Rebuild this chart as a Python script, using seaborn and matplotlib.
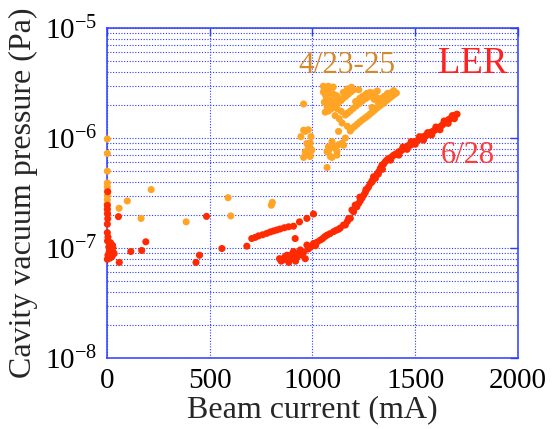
import matplotlib
matplotlib.use('Agg')
import matplotlib.pyplot as plt
import matplotlib.ticker as mticker
import pandas as pd
import seaborn as sns

# LER, 6/28 run: beam current (mA) vs cavity vacuum pressure (Pa)
red_current = [
    5, 3, 3, 4, 5, 3, 57, 3, 6, 4, 18, 28, 10, 22, 32, 6, 26, 3, 16, 36, 30, 12,
    61, 117, 170, 190, 434, 451, 485, 560, 681,
    705, 722, 738, 758, 778, 795, 811, 827, 843, 864, 884, 908, 916, 937, 973, 1005,
    840, 848, 859, 866, 876, 885, 893, 900, 908, 918, 925, 933, 941, 950, 958, 965,
    973, 980, 990, 1005, 1015, 1022, 1038, 1050, 1060, 1071, 1085, 1103, 1115, 1127,
    1135, 1151, 1160, 1170, 1176, 1184, 1192, 1200, 1208, 1216, 1225, 1233, 1241,
    1249, 1257, 1265, 1273, 1281, 1290, 1297, 1306, 1314, 1322, 1330, 1338, 1346,
    1354, 1362, 1370, 1378, 1387, 1395, 1403, 1411, 1420, 1428, 1435, 1443, 1452,
    1460, 1468, 1476, 1484, 1492, 1500, 1510, 1518, 1525, 1533, 1541, 1549, 1557,
    1565, 1573, 1581, 1589, 1597, 1605, 1613, 1622, 1630, 1638, 1646, 1654, 1662,
    1670, 1678, 1687, 1695, 1703,
    1340, 1380, 1420, 1460, 1500, 1540, 1580, 1620, 1660, 1690, 1440, 1480, 1520,
    1560, 1600, 1640, 1680, 1230, 1260, 1290, 1320,
]
red_pressure = [
    3.25e-7, 2.45e-7, 2.25e-7, 2.05e-7, 1.85e-7, 1.65e-7, 1.93e-7, 1.38e-7, 1.26e-7,
    1.16e-7, 1.12e-7, 1.06e-7, 1.02e-7, 9.6e-8, 9.1e-8, 8.6e-8, 8.4e-8, 7.9e-8,
    8.1e-8, 8.9e-8, 1.01e-7, 9.2e-8,
    7.4e-8, 9.3e-8, 9.5e-8, 1.14e-7, 7.4e-8, 8.6e-8, 1.94e-7, 9.9e-8, 1.04e-7,
    1.22e-7, 1.25e-7, 1.29e-7, 1.32e-7, 1.36e-7, 1.40e-7, 1.43e-7, 1.46e-7, 1.49e-7,
    1.53e-7, 1.56e-7, 1.58e-7, 1.22e-7, 1.73e-7, 1.86e-7, 2.04e-7,
    8.0e-8, 7.6e-8, 7.8e-8, 8.3e-8, 8.6e-8, 7.4e-8, 8.0e-8, 8.8e-8, 9.3e-8, 7.6e-8,
    8.3e-8, 9.0e-8, 9.6e-8, 8.6e-8, 9.2e-8, 8.0e-8,
    1.065e-7, 9.8e-8, 1.02e-7, 1.10e-7, 1.05e-7, 1.13e-7, 1.18e-7, 1.22e-7, 1.27e-7,
    1.31e-7, 1.35e-7, 1.41e-7, 1.45e-7, 1.48e-7,
    1.52e-7, 1.62e-7, 1.62e-7, 1.75e-7, 1.86e-7, 1.86e-7, 2.22e-7, 2.14e-7, 2.46e-7,
    2.37e-7, 2.55e-7, 2.70e-7, 2.85e-7,
    3.03e-7, 3.2e-7, 3.43e-7, 3.6e-7, 3.85e-7, 4.1e-7, 4.45e-7, 4.3e-7, 4.7e-7,
    4.94e-7, 5.3e-7, 5.68e-7, 5.8e-7,
    6.1e-7, 6.31e-7, 6.5e-7, 6.6e-7, 6.76e-7, 7.0e-7, 7.1e-7, 7.25e-7, 7.5e-7,
    7.6e-7, 7.78e-7, 8.0e-7, 8.2e-7,
    8.34e-7, 8.6e-7, 8.6e-7, 8.8e-7, 8.95e-7, 9.3e-7, 9.5e-7, 9.7e-7, 9.9e-7,
    1.02e-6, 1.03e-6, 1.05e-6, 1.065e-6,
    1.10e-6, 1.12e-6, 1.14e-6, 1.16e-6, 1.19e-6, 1.22e-6, 1.24e-6, 1.27e-6, 1.31e-6,
    1.35e-6, 1.39e-6, 1.43e-6, 1.47e-6,
    1.50e-6, 1.54e-6, 1.58e-6, 1.62e-6, 1.65e-6,
    5.2e-7, 6.3e-7, 7.0e-7, 7.9e-7, 8.8e-7, 9.6e-7, 1.07e-6, 1.19e-6, 1.36e-6,
    1.50e-6, 8.3e-7, 9.3e-7, 1.03e-6, 1.12e-6, 1.26e-6, 1.43e-6, 1.60e-6,
    2.9e-7, 3.4e-7, 4.0e-7, 4.7e-7,
]

# 4/23-25 runs
orange_current = [
    3, 3, 3, 3, 3, 3, 3, 3, 3, 3, 3, 60, 100, 216, 167, 386, 590, 603, 800, 805,
    944, 957, 965, 980, 993, 973, 989, 980, 997, 973, 965, 989, 957, 989, 1071,
    1078, 1103, 1095, 1103, 1078, 1087, 1095, 1119, 1119, 1127, 1144, 1151, 1071, 957,
    1053, 1077, 1101, 1053, 1067, 1058, 1072, 1062, 1087, 1111, 1062, 1080, 1090,
    1077, 1101, 1125, 1150, 1174, 1198, 1089, 1113, 1137, 1162, 1186, 1150, 1170,
    1160, 1184, 1213, 1242, 1271, 1296, 1315, 1172, 1198, 1228, 1257, 1284, 1230, 1265,
    1194, 1218, 1242, 1267, 1291, 1315, 1340, 1364, 1388, 1408, 1206, 1230, 1255,
    1279, 1303, 1327, 1352, 1376, 1398, 1340, 1370, 1395, 1290, 1320,
    1144, 1127, 1160, 1184, 1170, 1130, 1110, 1140, 1120,
    1070, 1095, 1120, 1140, 1110, 1085, 1210, 1245, 1280, 1310, 1350, 1385,
    1190, 1225, 1260, 1300, 1335, 1365,
]
orange_pressure = [
    9.8e-7, 7.25e-7, 5.0e-7, 3.9e-7, 3.6e-7, 3.3e-7, 3.0e-7, 2.75e-7, 2.5e-7,
    2.25e-7, 2.05e-7, 2.3e-7, 2.68e-7, 3.4e-7, 1.86e-7, 1.73e-7, 2.87e-7, 1.96e-7,
    2.45e-7, 2.6e-7,
    1.03e-6, 1.18e-6, 1.15e-6, 1.19e-6, 1.03e-6, 8.95e-7, 9.0e-7, 8.4e-7, 7.8e-7,
    7.3e-7, 7.5e-7, 6.8e-7, 6.67e-7, 7.35e-7, 7.5e-7,
    8.34e-7, 8.5e-7, 9.3e-7, 8.2e-7, 7.6e-7, 6.8e-7, 6.67e-7, 7.6e-7, 7.0e-7, 8.7e-7,
    9.0e-7, 8.6e-7, 5.4e-7, 2.04e-6,
    2.96e-6, 2.96e-6, 2.91e-6, 2.63e-6, 2.36e-6, 2.12e-6, 1.91e-6, 1.72e-6, 2.22e-6,
    2.46e-6, 2.5e-6, 2.6e-6, 2.75e-6,
    1.76e-6, 1.91e-6, 2.08e-6, 2.31e-6, 2.51e-6, 2.73e-6, 1.83e-6, 2.0e-6, 2.2e-6,
    2.4e-6, 2.62e-6, 2.6e-6, 2.8e-6,
    1.62e-6, 1.76e-6, 1.96e-6, 2.17e-6, 2.36e-6, 2.57e-6, 2.68e-6, 1.69e-6, 1.86e-6,
    2.06e-6, 2.27e-6, 2.46e-6, 2.3e-6, 2.55e-6,
    1.23e-6, 1.34e-6, 1.46e-6, 1.58e-6, 1.72e-6, 1.88e-6, 2.04e-6, 2.22e-6, 2.41e-6,
    2.57e-6, 1.28e-6, 1.4e-6, 1.52e-6,
    1.65e-6, 1.8e-6, 1.96e-6, 2.13e-6, 2.32e-6, 2.5e-6, 2.25e-6, 2.45e-6, 2.7e-6,
    1.9e-6, 2.1e-6,
    1.37e-6, 1.15e-6, 1.0e-6, 1.16e-6, 1.28e-6, 1.5e-6, 1.6e-6, 1.75e-6, 1.85e-6,
    2.7e-6, 2.55e-6, 2.4e-6, 2.2e-6, 2.15e-6, 2.05e-6, 2.15e-6, 2.4e-6, 2.6e-6,
    2.35e-6, 2.4e-6, 2.6e-6,
    2.9e-6, 2.75e-6, 2.5e-6, 2.25e-6, 2.3e-6, 2.55e-6,
]

y_ticks = [1e-8, 1e-7, 1e-6, 1e-5]
x_ticks = [0, 500, 1000, 1500, 2000]

blue = '#2a3cff'
red = '#ff2a00'
orange = '#ffa424'

sns.set_style('white')
plt.rcParams['font.family'] = ['Liberation Serif', 'DejaVu Serif']
plt.rcParams['mathtext.fontset'] = 'custom'
plt.rcParams['mathtext.rm'] = 'Liberation Serif'
plt.rcParams['mathtext.it'] = 'Liberation Serif:italic'

df = pd.concat([
    pd.DataFrame({'current': orange_current, 'pressure': orange_pressure, 'run': '4/23-25'}),
    pd.DataFrame({'current': red_current, 'pressure': red_pressure, 'run': '6/28'}),
], ignore_index=True)

fig = plt.figure(figsize=(5.53, 4.29), dpi=100)
ax = fig.add_axes([0.193, 0.1655, 0.744, 0.769])

sns.scatterplot(data=df, x='current', y='pressure', hue='run',
                palette={'4/23-25': orange, '6/28': red},
                s=26, linewidth=0, legend=False, clip_on=False, ax=ax, zorder=3)

ax.set_yscale('log')
ax.set_xlim(0, 2000)
ax.set_ylim(1e-8, 1e-5)
ax.set_xticks(x_ticks)
ax.set_yticks(y_ticks)
ax.yaxis.set_minor_locator(mticker.LogLocator(base=10, subs=range(2, 10)))
ax.yaxis.set_major_formatter(mticker.LogFormatterMathtext())

ax.grid(which='major', axis='both', color=blue, linestyle=(0, (1, 1.5)), linewidth=0.8)
ax.grid(which='minor', axis='y', color=blue, linestyle=(0, (1, 1.5)), linewidth=0.8)
ax.set_axisbelow(True)

for side in ax.spines.values():
    side.set_color(blue)
    side.set_linewidth(1.1)

ax.tick_params(which='major', direction='in', length=6, width=1, color=blue,
               top=True, right=True, labelsize=21, pad=7, labelcolor='black')
ax.tick_params(which='minor', length=0)

ax.set_xlabel('Beam current (mA)', fontsize=23, labelpad=1)
ax.set_ylabel('Cavity vacuum pressure (Pa)', fontsize=23, labelpad=5)

ax.text(0.583, 0.864, '4/23-25', transform=ax.transAxes, color='#d48a2c',
        fontsize=22.5, ha='center', va='baseline')
ax.text(0.889, 0.864, 'LER', transform=ax.transAxes, color='#ff2020',
        fontsize=26.5, ha='center', va='baseline')
ax.text(0.878, 0.591, '6/28', transform=ax.transAxes, color='#ff3a3a',
        fontsize=22, ha='center', va='baseline')

fig.savefig('out.png', dpi=100)
